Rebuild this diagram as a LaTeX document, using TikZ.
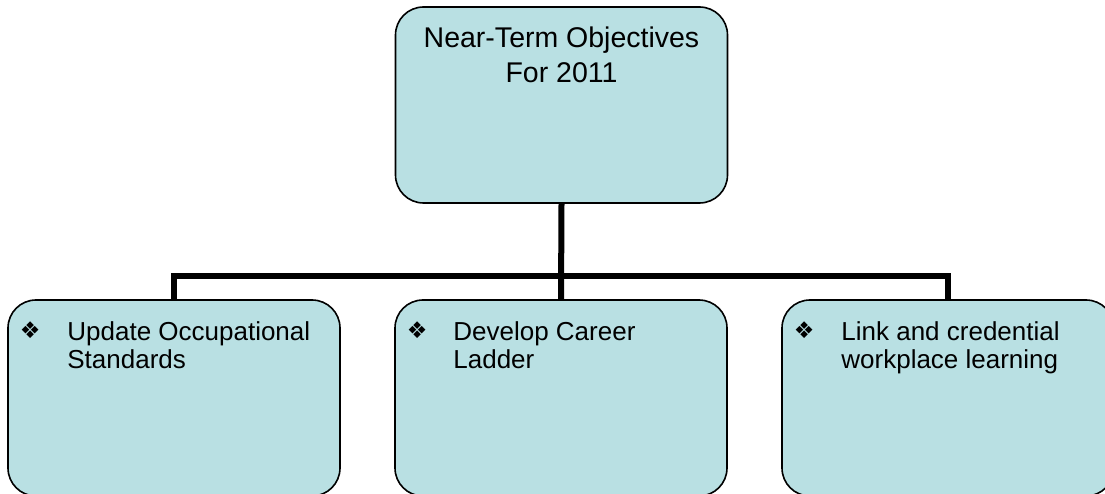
\documentclass[tikz,border=0pt]{standalone}
\usepackage{fontspec}
\setmainfont{Liberation Sans}
\newfontfamily\markfont{DejaVu Sans}
\usetikzlibrary{positioning}
\definecolor{boxblue}{RGB}{185,224,227}

\tikzset{
  objbox/.style={draw, line width=1.6pt, fill=boxblue, rounded corners=28pt,
    minimum width=332pt, minimum height=196pt, inner sep=0pt},
  objtext/.style={font=\fontsize{26}{28}\selectfont, inner sep=0pt,
    align=left, anchor=north west},
  objmark/.style={font=\markfont\fontsize{23}{23}\selectfont, inner sep=0pt},
  link/.style={line width=6pt, line join=miter},
}

\begin{document}
\begin{tikzpicture}[x=1pt,y=1pt]
	\useasboundingbox (0,0) rectangle (1105,493);
	% top box
	\node[objbox] (goal) at (561.5,388) {};
	\node[objtext, anchor=north, align=center,
	  font=\fontsize{28.5}{35}\selectfont] (goaltext)
	  at ([yshift=-20pt]goal.north) {Near-Term Objectives\\For 2011};
	% bottom boxes
	\node[objbox] (upd) at (174,95) {};
	\node[objbox] (dev) at (561,95) {};
	\node[objbox] (lnk) at (948,95) {};
	% bullets and texts
	\node[objmark] (updmark) at ([xshift=23pt,yshift=-31pt]upd.north west) {❖};
	\node[objtext] (updtext) at ([xshift=60pt,yshift=-22pt]upd.north west)
	  {Update Occupational\\Standards};
	\node[objmark] (devmark) at ([xshift=23pt,yshift=-31pt]dev.north west) {❖};
	\node[objtext] (devtext) at ([xshift=59pt,yshift=-22pt]dev.north west)
	  {Develop Career\\Ladder};
	\node[objmark] (lnkmark) at ([xshift=23pt,yshift=-31pt]lnk.north west) {❖};
	\node[objtext] (lnktext) at ([xshift=60pt,yshift=-22pt]lnk.north west)
	  {Link and credential\\workplace learning};
	% connectors
	\coordinate (bus) at (561,217);
	\draw[link] (goal.south) -- (dev.north);
	\draw[link] (upd.north) |- (bus) -| (lnk.north);
\end{tikzpicture}
\end{document}
